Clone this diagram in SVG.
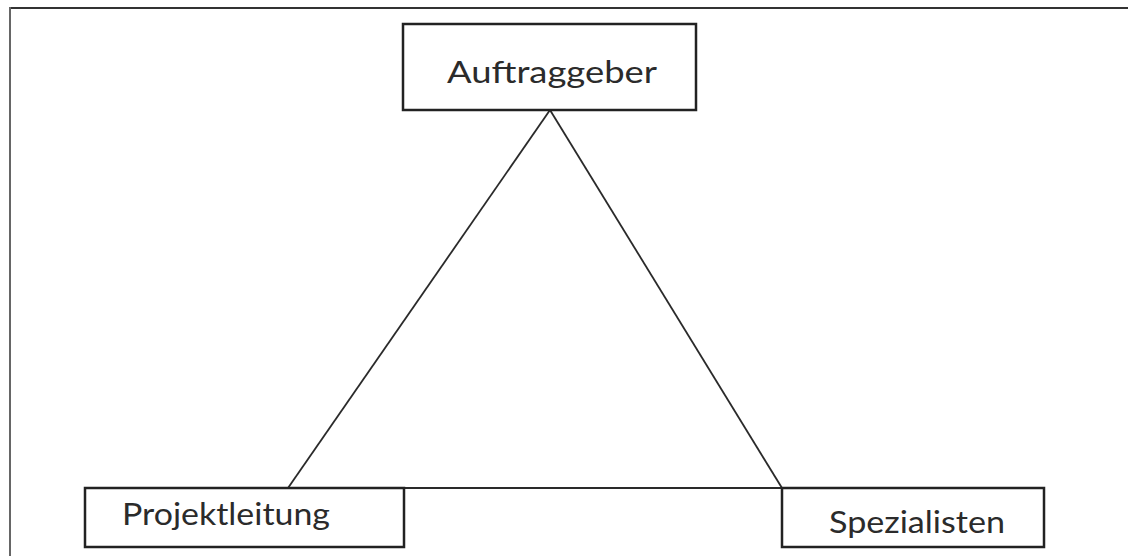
<svg xmlns="http://www.w3.org/2000/svg" width="1128" height="556" viewBox="0 0 1128 556">
  <style>
    .box { fill: #ffffff; stroke: #222222; stroke-width: 2.5; }
    .edge { stroke: #2a2a2a; stroke-width: 1.8; fill: none; }
    .label { font-family: "Lato", "Liberation Sans", sans-serif; font-size: 31px; fill: #2b2b2b; }
  </style>
  <rect width="1128" height="556" fill="#ffffff"/>
  <!-- page frame: top rule and left rule -->
  <g id="frame">
    <line x1="9" y1="8" x2="1128" y2="8" stroke="#333333" stroke-width="2"/>
    <line x1="10" y1="7" x2="10" y2="556" stroke="#666666" stroke-width="2"/>
  </g>
  <g id="connectors">
    <line class="edge" x1="550" y1="110" x2="288" y2="488"/>
    <line class="edge" x1="550" y1="110" x2="782" y2="488"/>
    <line class="edge" x1="404" y1="488" x2="782" y2="488"/>
  </g>
  <g id="auftraggeber">
    <rect class="box" x="403" y="24" width="293" height="86"/>
    <text class="label" x="447" y="83" textLength="210" lengthAdjust="spacingAndGlyphs">Auftraggeber</text>
  </g>
  <g id="projektleitung">
    <rect class="box" x="85" y="488" width="319" height="59"/>
    <text class="label" x="122" y="525" textLength="208" lengthAdjust="spacingAndGlyphs">Projektleitung</text>
  </g>
  <g id="spezialisten">
    <rect class="box" x="782" y="488" width="262" height="59"/>
    <text class="label" x="829" y="533" textLength="176" lengthAdjust="spacingAndGlyphs">Spezialisten</text>
  </g>
</svg>
